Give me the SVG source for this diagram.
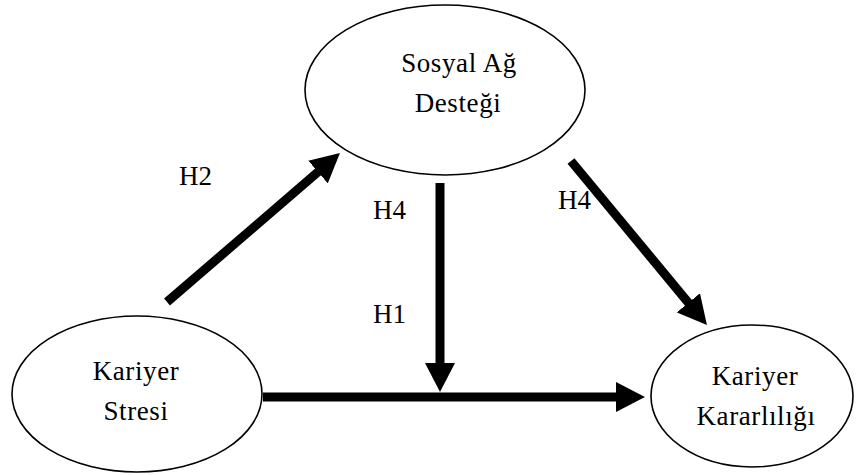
<svg xmlns="http://www.w3.org/2000/svg" width="858" height="475" viewBox="0 0 858 475">
<style>
.node{fill:#fff;stroke:#000;stroke-width:1.6}
.t{font-family:"Liberation Serif","DejaVu Serif",serif;font-size:27px;fill:#000;text-anchor:middle;letter-spacing:0.6px}
.lbl{font-family:"Liberation Serif","DejaVu Serif",serif;font-size:27px;fill:#000}
.arr{stroke:#000;stroke-width:9;fill:none;marker-end:url(#ah)}
</style>
<defs>
<marker id="ah" markerUnits="userSpaceOnUse" markerWidth="30" markerHeight="30" refX="2" refY="15" orient="auto">
<path d="M0,0 L29,15 L0,30 z" fill="#000"/>
</marker>
</defs>
<rect width="858" height="475" fill="#fff"/>
<g id="connectors">
<line class="arr" x1="167" y1="302" x2="319.5" y2="170.7"/>
<line class="arr" x1="440" y1="183" x2="440" y2="365"/>
<line class="arr" x1="263" y1="397" x2="618" y2="397"/>
<line class="arr" x1="571" y1="161" x2="689.7" y2="304.3"/>
</g>
<g id="sosyal">
<ellipse class="node" cx="445" cy="90" rx="140" ry="85"/>
<text class="t" x="459" y="72">Sosyal Ağ</text>
<text class="t" x="458" y="112">Desteği</text>
</g>
<g id="stres">
<ellipse class="node" cx="137" cy="394" rx="125" ry="78"/>
<text class="t" x="136" y="380">Kariyer</text>
<text class="t" x="136" y="420">Stresi</text>
</g>
<g id="kararlilik">
<ellipse class="node" cx="752" cy="396" rx="101" ry="71"/>
<text class="t" x="755" y="385">Kariyer</text>
<text class="t" x="756" y="425">Kararlılığı</text>
</g>
<g id="labels">
<text class="lbl" x="179" y="185">H2</text>
<text class="lbl" x="373" y="219">H4</text>
<text class="lbl" x="373" y="323">H1</text>
<text class="lbl" x="558" y="209">H4</text>
</g>
</svg>
